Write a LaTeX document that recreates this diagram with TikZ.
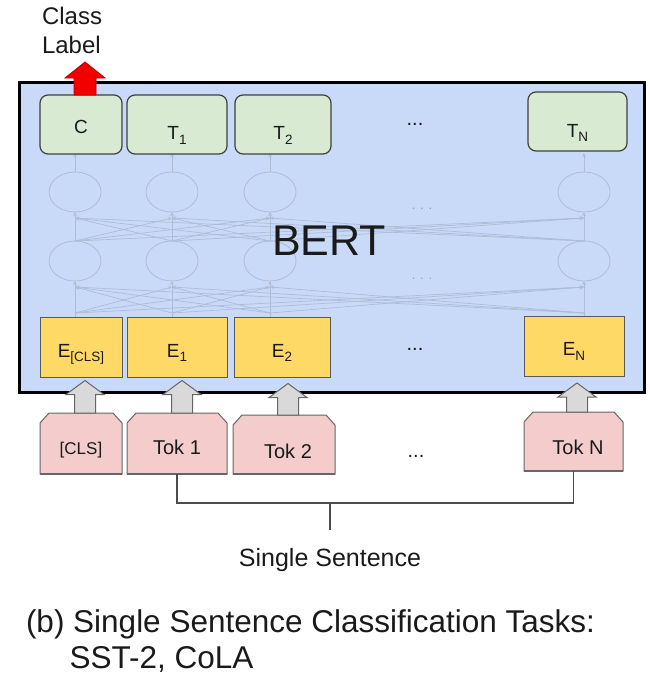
\documentclass[tikz,border=0pt]{standalone}
\usepackage{fontspec}
\setmainfont{Liberation Sans}
\usetikzlibrary{calc,arrows.meta,shapes.geometric}
\pgfdeclarelayer{bg}
\pgfsetlayers{bg,main}
\definecolor{bertblue}{HTML}{C9DAF8}
\definecolor{tgreen}{HTML}{D9EAD3}
\definecolor{eyellow}{HTML}{FFD966}
\definecolor{tpink}{HTML}{F4CCCC}
\definecolor{netc}{HTML}{AEBCD5}
\definecolor{txt}{HTML}{1A1A1A}
\newcommand\pxf[1]{\fontsize{#1pt}{#1pt}\selectfont}
\newcommand\lsub[1]{\raisebox{-4.5pt}{\pxf{13.5}#1}}
\newcommand\tokshape[1]{%
  \begin{pgfonlayer}{bg}
  \filldraw[tokfill] (#1.south west) -- ($(#1.north west)+(0,10)$) -- ($(#1.north west)+(9,0)$)
     -- ($(#1.north east)+(-9,0)$) -- ($(#1.north east)+(0,10)$) -- (#1.south east) -- cycle;
  \draw[tokbase] (#1.south west) -- (#1.south east);
  \end{pgfonlayer}}
\newcommand\grayarrow[4]{%
  \filldraw[grayarr] let \p1=($(#1.north)+(#3,0)$), \p2=(#2.south) in
   (\x1-10.5pt,\y1) -- (\x1-10.5pt,\y2-#4pt-14pt) -- (\x1-19pt,\y2-#4pt-14pt) -- (\x1,\y2-#4pt)
   -- (\x1+19pt,\y2-#4pt-14pt) -- (\x1+10.5pt,\y2-#4pt-14pt) -- (\x1+10.5pt,\y1) -- cycle;}
\begin{document}
\begin{tikzpicture}[x=1pt,y=-1pt,
  every node/.style={outer sep=0pt, inner sep=0pt, text=txt},
  tbox/.style={draw=black!75, line width=1.2pt, fill=tgreen, rounded corners=8pt,
     minimum height=59pt, text depth=0pt, font=\pxf{19}},
  ebox/.style={draw=black!65, line width=1pt, fill=eyellow, minimum height=60pt,
     text height=19pt, text depth=0pt, font=\pxf{19}},
  tokn/.style={text depth=0pt, font=\pxf{20}},
  net/.style={draw=netc, line width=0.7pt, -{Stealth[length=4pt,width=3.5pt]}},
  neuron/.style={ellipse, draw=netc, line width=0.8pt, minimum width=52pt, minimum height=40pt},
  grayarr/.style={fill=black!15, draw=black!60, line width=1pt},
  redarr/.style={fill=red!95!black, draw=red!75!black, line width=0.8pt},
  tokfill/.style={fill=tpink, draw=black!60, line width=1pt},
  tokbase/.style={draw=black!60, line width=2.2pt},
  link/.style={draw=black!70, line width=1.2pt},
  dotsl/.style={font=\pxf{20}}]
\useasboundingbox (0,0) rectangle (649,685);

% Class label
\node[anchor=base west, font=\pxf{24}] (cl1) at (42,25) {Class};
\node[anchor=base west, font=\pxf{24}] (cl2) at (42,53) {Label};

% BERT box
\node[draw=black, line width=3pt, fill=bertblue, minimum width=625pt, minimum height=310pt] (bert) at (331.5,237) {};

% faint network
\foreach \i/\x in {1/75,2/172,3/270,4/584} {
  \node[neuron] (L\i) at (\x,261) {};
  \node[neuron] (U\i) at (\x,192) {};
  \coordinate (eb\i) at (\x,317);
  \coordinate (lo\i) at (\x,313);
  \coordinate (li\i) at (\x,287);
  \coordinate (uo\i) at (\x,241);
  \coordinate (ui\i) at (\x,218);
  \coordinate (tb\i) at (\x,153);
}
\foreach \i in {1,...,4} {
  \draw[net] (eb\i) -- (L\i.south);
  \draw[net] (L\i.north) -- (U\i.south);
  \draw[net] (U\i.north) -- (tb\i);
  \foreach \j in {1,...,4} {
    \ifnum\i=\j\relax\else
      \draw[net] (lo\i) -- (li\j);
      \draw[net] (uo\i) -- (ui\j);
    \fi
  }
}
\node[font=\pxf{13}, text=netc!85!black] (fd1) at (422,209) {. . .};
\node[font=\pxf{13}, text=netc!85!black] (fd2) at (422,279) {. . .};

\node[font=\pxf{43}] (bertlbl) at (329,241) {BERT};

% output boxes
\node[tbox, minimum width=82pt, text height=17pt] (tC) at (81,124.5) {C};
\node[tbox, minimum width=100pt, text height=30pt] (t1) at (177,124.5) {T\lsub{1}};
\node[tbox, minimum width=96pt, text height=30pt] (t2) at (283,124.5) {T\lsub{2}};
\node[tbox, minimum width=99pt, text height=31pt] (tN) at (577.5,121.5) {T\lsub{N}};
\node[dotsl] (dT) at (415,124) {...};

% embedding boxes
\node[ebox, minimum width=82pt] (eC) at (81,347.5) {E\lsub{[CLS]}};
\node[ebox, minimum width=100pt] (e1) at (177,347.5) {E\lsub{1}};
\node[ebox, minimum width=96pt] (e2) at (282,347.5) {E\lsub{2}};
\node[ebox, minimum width=100pt] (eN) at (574,346) {E\lsub{N}};
\node[dotsl] (dE) at (415,349) {...};

% tokens
\node[tokn, minimum width=82pt, minimum height=61pt, text height=21pt, font=\pxf{17}] (kC) at (81,443.5) {[CLS]};
\node[tokn, minimum width=100pt, minimum height=61pt, text height=21pt] (k1) at (177,443.5) {Tok 1};
\node[tokn, minimum width=102pt, minimum height=59pt, text height=27pt] (k2) at (284,444.5) {\hspace*{8pt}Tok 2};
\node[tokn, minimum width=99pt, minimum height=59pt, text height=25pt] (kN) at (573.5,441.5) {\hspace*{9pt}Tok N};
\node[dotsl] (dK) at (416,456) {...};
\tokshape{kC}
\tokshape{k1}
\tokshape{k2}
\tokshape{kN}

% block arrows
\grayarrow{kC}{eC}{4}{3}
\grayarrow{k1}{e1}{5}{3}
\grayarrow{k2}{e2}{4}{6}
\grayarrow{kN}{eN}{3.5}{7}
\filldraw[redarr] let \p1=($(tC.north)+(4,0)$) in
  (\x1-11pt,\y1) -- (\x1-11pt,\y1+17pt) -- (\x1-20pt,\y1+17pt) -- (\x1,\y1+33pt)
  -- (\x1+20pt,\y1+17pt) -- (\x1+11pt,\y1+17pt) -- (\x1+11pt,\y1) -- cycle;

% sentence connector
\coordinate (join) at (330,503);
\coordinate (joinend) at (330,530);
\draw[link] (k1.south) |- (join) -| (kN.south);
\draw[link] (join) -- (joinend);
\node[anchor=base, font=\pxf{25}] (ss) at (330,566) {Single Sentence};

% caption
\node[anchor=base west, font=\pxf{31.5}] (cap1) at (26,632) {(b) Single Sentence Classification Tasks:};
\node[anchor=base west, font=\pxf{31.5}] (cap2) at (69.5,668) {SST-2, CoLA};
\end{tikzpicture}
\end{document}
